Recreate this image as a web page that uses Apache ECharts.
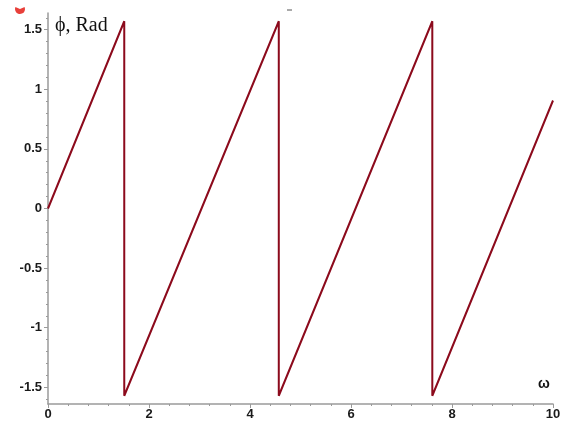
<!DOCTYPE html>
<html>
<head>
<meta charset="utf-8">
<script src="https://cdn.jsdelivr.net/npm/echarts@6/dist/echarts.min.js"></script>
<style>html,body{margin:0;padding:0;background:#fff;}#c{width:564px;height:421px;}</style>
</head>
<body>
<div id="c"></div>
<script>
// omega values (x) and phase values (y, rad)
var omega = [0, 1.51, 1.51, 4.57, 4.57, 7.61, 7.61, 10];
var phase = [0, 1.5708, -1.5708, 1.5708, -1.5708, 1.5708, -1.5708, 0.906];
var xTicks = [0, 2, 4, 6, 8, 10];
var yTicks = [-1.5, -1, -0.5, 0, 0.5, 1, 1.5];
var yMinorTicks = [-1.6, -1.4, -1.3, -1.2, -1.1, -0.9, -0.8, -0.7, -0.6, -0.4, -0.3, -0.2, -0.1,
                   0.1, 0.2, 0.3, 0.4, 0.6, 0.7, 0.8, 0.9, 1.1, 1.2, 1.3, 1.4, 1.6];

var chart = echarts.init(document.getElementById('c'), null, {renderer: 'canvas'});
var data = omega.map(function (w, i) { return [w, phase[i]]; });
var axisColor = '#9a9a9a';
var labelStyle = {color: '#1a1a1a', fontWeight: 'bold', fontSize: 13, fontFamily: 'Liberation Sans, Arial, sans-serif'};
var yMin = -1.64, yMax = 1.64;
chart.setOption({
  animation: false,
  grid: {left: 48, right: 11, top: 13, bottom: 17, containLabel: false},
  xAxis: {
    type: 'value', min: 0, max: 10, interval: 2,
    axisLine: {show: true, onZero: false, lineStyle: {color: axisColor, width: 1.5}},
    axisTick: {show: true, inside: false, length: 4, lineStyle: {color: axisColor}},
    minorTick: {show: true, splitNumber: 5, length: 2, lineStyle: {color: axisColor}},
    splitLine: {show: false},
    axisLabel: Object.assign({margin: 4}, labelStyle)
  },
  yAxis: [{
    type: 'value', min: yMin, max: yMax, position: 'left',
    axisLine: {show: true, onZero: false, lineStyle: {color: axisColor, width: 1.5}},
    axisTick: {show: true, inside: false, length: 4, customValues: yTicks, lineStyle: {color: axisColor}},
    splitLine: {show: false},
    axisLabel: Object.assign({margin: 6, customValues: yTicks}, labelStyle)
  }, {
    type: 'value', min: yMin, max: yMax, position: 'left', offset: 0,
    axisLine: {show: false, onZero: false},
    axisTick: {show: true, inside: false, length: 2, customValues: yMinorTicks, lineStyle: {color: axisColor}},
    splitLine: {show: false},
    axisLabel: {show: false}
  }],
  series: [{
    type: 'line', data: data, showSymbol: false, symbol: 'none',
    lineStyle: {color: '#8c0a1c', width: 2}, clip: false
  }],
  graphic: [
    {type: 'text', left: 55, top: 16, style: {text: 'ϕ, Rad', font: '20px "Liberation Serif", "Times New Roman", serif', fill: '#111'}},
    {type: 'text', left: 538, top: 377, style: {text: 'ω', font: 'bold 14px "Liberation Sans", Arial, sans-serif', fill: '#111'}},
    {type: 'sector', shape: {cx: 20, cy: 9, r0: 0, r: 5, startAngle: -0.4, endAngle: Math.PI + 0.4}, style: {fill: '#e8403a'}},
    {type: 'line', shape: {x1: 287, y1: 10, x2: 292, y2: 10}, style: {stroke: '#555', lineWidth: 1}}
  ]
});
</script>
</body>
</html>
